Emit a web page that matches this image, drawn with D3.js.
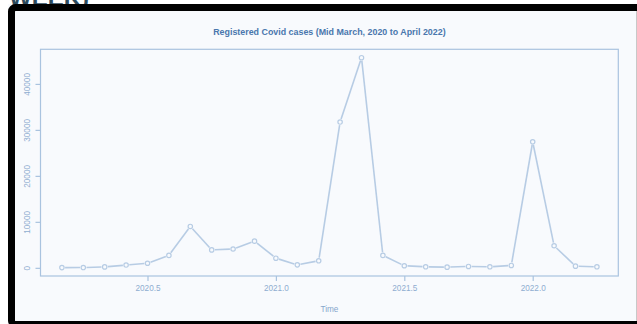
<!DOCTYPE html>
<html>
<head>
<meta charset="utf-8">
<script src="https://cdn.jsdelivr.net/npm/d3@7"></script>
<style>
  html, body { margin: 0; padding: 0; background: #ffffff; }
  svg { display: block; }
</style>
</head>
<body>
<svg id="chart" width="637" height="324"></svg>
<script>
// Monthly registered Covid cases, March 2020 to April 2022 (time in decimal years)
const startYear = 2020;
const startMonth = 2;          // March (0-based month index)
const cases = [
  50, 60, 200, 600, 1000, 2700, 9000, 3900, 4100, 5800, 2100, 650, 1530,
  31700, 45700, 2700, 450, 220, 150, 300, 220, 520, 27400, 4800, 370, 220
];
const yTicks = [0, 10000, 20000, 30000, 40000];
const xTicks = [2020.5, 2021.0, 2021.5, 2022.0];
const titleText = "Registered Covid cases (Mid March, 2020 to April 2022)";
const xLabel = "Time";
const headerText = "WEEK)";

const series = cases.map((v, i) => ({ t: startYear + (startMonth + i) / 12, v }));

const svg = d3.select("#chart");
const W = 637, H = 324;

// Panel background and frame
svg.append("rect").attr("x", 8).attr("y", 4).attr("width", W).attr("height", H)
  .attr("fill", "#f8fafd");
svg.append("text")
  .attr("x", 9).attr("y", 6)
  .attr("font-family", "Liberation Sans, Arial, sans-serif")
  .attr("font-weight", "bold").attr("font-size", 24)
  .attr("fill", "#2c4a5c")
  .text(headerText);
svg.append("rect")
  .attr("x", 11.5).attr("y", 7.5)
  .attr("width", 640).attr("height", 317)
  .attr("rx", 4)
  .attr("fill", "none").attr("stroke", "#000").attr("stroke-width", 7);
svg.append("line")
  .attr("x1", 636.5).attr("x2", 636.5).attr("y1", 11).attr("y2", 321)
  .attr("stroke", "#c8c8c8").attr("stroke-width", 1);

// Plot region
const plot = { left: 40.5, right: 618.3, top: 49.3, bottom: 276 };

// Ranges padded by 4% on each side
const pad = (ext) => { const r = ext[1] - ext[0]; return [ext[0] - 0.04 * r, ext[1] + 0.04 * r]; };
const x = d3.scaleLinear().domain(pad(d3.extent(series, d => d.t))).range([plot.left, plot.right]);
const y = d3.scaleLinear().domain(pad(d3.extent(series, d => d.v))).range([plot.bottom, plot.top]);

const axisColor = "#a9c3df";
const labelColor = "#8fadd0";
const font = "Liberation Sans, Arial, sans-serif";

// Box
svg.append("rect")
  .attr("x", plot.left).attr("y", plot.top)
  .attr("width", plot.right - plot.left).attr("height", plot.bottom - plot.top)
  .attr("fill", "none").attr("stroke", axisColor).attr("stroke-width", 1.2);

// X axis
const xAxis = d3.axisBottom(x).tickValues(xTicks).tickFormat(d3.format(".1f"))
  .tickSizeOuter(0).tickSizeInner(5).tickPadding(4);
const gx = svg.append("g").attr("transform", `translate(0,${plot.bottom})`).call(xAxis);
gx.select(".domain").remove();
gx.selectAll("line").attr("stroke", axisColor).attr("stroke-width", 1.2);
gx.selectAll("text").attr("fill", labelColor).attr("font-family", font).attr("font-size", 8.2);

// Y axis with rotated labels
const yAxis = d3.axisLeft(y).tickValues(yTicks).tickFormat(d3.format("d"))
  .tickSizeOuter(0).tickSizeInner(5).tickPadding(0);
const gy = svg.append("g").attr("transform", `translate(${plot.left},0)`).call(yAxis);
gy.select(".domain").remove();
gy.selectAll("line").attr("stroke", axisColor).attr("stroke-width", 1.2);
gy.selectAll("text")
  .attr("fill", labelColor).attr("font-family", font).attr("font-size", 8.2)
  .attr("x", null).attr("dy", null)
  .attr("text-anchor", "middle")
  .attr("transform", "translate(-11,0) rotate(-90)")
  .attr("dy", "0em");

// Title and axis label
svg.append("text")
  .attr("x", (plot.left + plot.right) / 2).attr("y", 34.5)
  .attr("text-anchor", "middle")
  .attr("font-family", font).attr("font-weight", "bold").attr("font-size", 8.9)
  .attr("fill", "#4a77ad")
  .text(titleText);
svg.append("text")
  .attr("x", (plot.left + plot.right) / 2).attr("y", 312)
  .attr("text-anchor", "middle")
  .attr("font-family", font).attr("font-size", 8.2)
  .attr("fill", "#86a6cc")
  .text(xLabel);

// Line with open circle markers (gaps around the points)
const lineColor = "#b7cce4";
const r = 2.2, gap = 3.2;
const segs = [];
for (let i = 0; i < series.length - 1; i++) {
  const x0 = x(series[i].t), y0 = y(series[i].v);
  const x1 = x(series[i + 1].t), y1 = y(series[i + 1].v);
  const len = Math.hypot(x1 - x0, y1 - y0);
  if (len > 2 * gap) {
    const ux = (x1 - x0) / len, uy = (y1 - y0) / len;
    segs.push([x0 + ux * gap, y0 + uy * gap, x1 - ux * gap, y1 - uy * gap]);
  }
}
svg.append("g").selectAll("line").data(segs).join("line")
  .attr("x1", d => d[0]).attr("y1", d => d[1])
  .attr("x2", d => d[2]).attr("y2", d => d[3])
  .attr("stroke", lineColor).attr("stroke-width", 1.6);
svg.append("g").selectAll("circle").data(series).join("circle")
  .attr("cx", d => x(d.t)).attr("cy", d => y(d.v)).attr("r", r)
  .attr("fill", "none").attr("stroke", lineColor).attr("stroke-width", 1.2);
</script>
</body>
</html>
